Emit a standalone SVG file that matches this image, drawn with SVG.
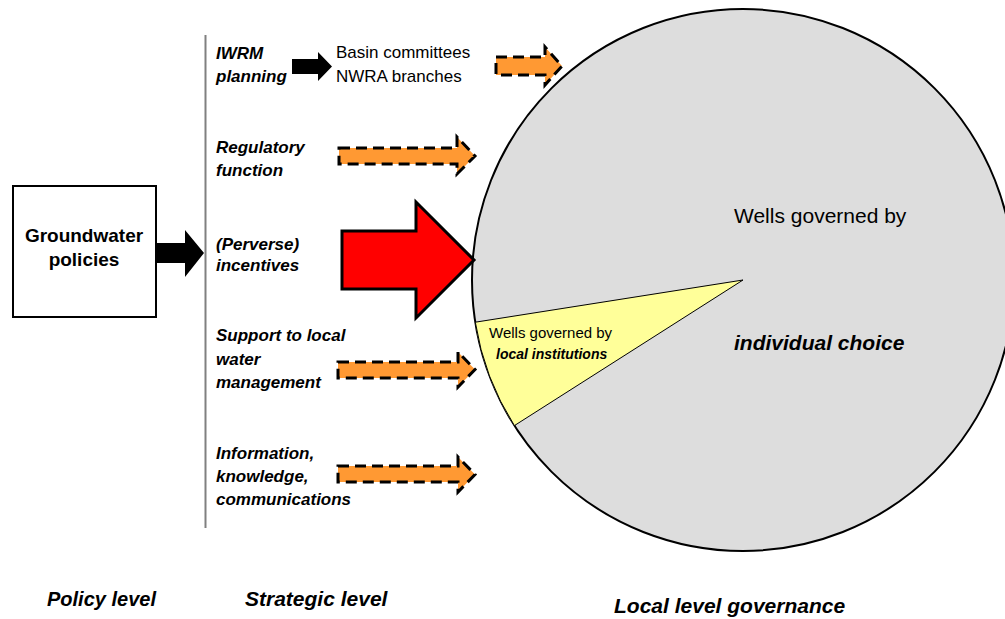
<svg xmlns="http://www.w3.org/2000/svg" width="1005" height="619" viewBox="0 0 1005 619">
<style>
.bi{font-family:"Liberation Sans",Arial,sans-serif;font-weight:bold;font-style:italic;fill:#000}
.rg{font-family:"Liberation Sans",Arial,sans-serif;fill:#000}
.orange{fill:#FF9933;stroke:#000;stroke-width:3;stroke-dasharray:11 6;stroke-linejoin:miter}
.black{fill:#000;stroke:none}
</style>
<rect width="1005" height="619" fill="#fff"/>
<g id="pie">
<circle cx="743" cy="280" r="271" fill="#DDDDDD" stroke="#000" stroke-width="2"/>
<path d="M743,280 L475.3,322.2 A271,271 0 0,0 514.4,425.6 Z" fill="#FFFF99" stroke="#000" stroke-width="1"/>
<text class="rg" x="734" y="223" font-size="21">Wells governed by</text>
<text class="bi" x="734" y="350" font-size="21">individual choice</text>
<text class="rg" x="489" y="338" font-size="15">Wells governed by</text>
<text class="bi" x="496" y="359" font-size="14">local institutions</text>
</g>
<g id="policy-box">
<rect x="13" y="186" width="143" height="131" fill="#fff" stroke="#000" stroke-width="2"/>
<text class="rg" x="84" y="242" font-size="19" font-weight="bold" text-anchor="middle">Groundwater</text>
<text class="rg" x="84" y="266" font-size="19" font-weight="bold" text-anchor="middle">policies</text>
</g>
<g id="strategic-line">
<line x1="205.5" y1="35" x2="205.5" y2="528" stroke="#808080" stroke-width="2"/>
</g>
<g id="strategies">
<text class="bi" x="216" y="59" font-size="17">IWRM</text>
<text class="bi" x="216" y="82" font-size="17">planning</text>
<text class="bi" x="216" y="153" font-size="17">Regulatory</text>
<text class="bi" x="216" y="176" font-size="17">function</text>
<text class="bi" x="216" y="250" font-size="17">(Perverse)</text>
<text class="bi" x="216" y="271" font-size="17">incentives</text>
<text class="bi" x="216" y="341" font-size="17">Support to local</text>
<text class="bi" x="216" y="365" font-size="17">water</text>
<text class="bi" x="216" y="388" font-size="17">management</text>
<text class="bi" x="216" y="459" font-size="17">Information,</text>
<text class="bi" x="216" y="482" font-size="17">knowledge,</text>
<text class="bi" x="216" y="505" font-size="17">communications</text>
</g>
<g id="basin">
<text class="rg" x="336" y="58" font-size="17">Basin committees</text>
<text class="rg" x="336" y="82" font-size="17">NWRA branches</text>
</g>
<g id="connectors">
<path class="black" d="M156,243 L185,243 L185,230 L204,253 L185,277 L185,263 L156,263 Z"/>
<path class="black" d="M292,59 L318,59 L318,52 L332,66.5 L318,81 L318,74 L292,74 Z"/>
<path class="orange" d="M496,57 L545,57 L545,47 L562,66 L545,85 L545,75 L496,75 Z"/>
<path class="orange" d="M339,148 L457,148 L457,137 L475,156 L457,174 L457,164 L339,164 Z"/>
<path d="M342,231 L416,231 L416,202 L474,260 L416,318 L416,289 L342,289 Z" fill="#FF0000" stroke="#000" stroke-width="3"/>
<path class="orange" d="M338,362 L458,362 L458,352 L475,369.5 L458,387 L458,378 L338,378 Z"/>
<path class="orange" d="M338,466 L458,466 L458,457 L475,474.5 L458,492 L458,482 L338,482 Z"/>
</g>
<g id="levels">
<text class="bi" x="47" y="606" font-size="20">Policy level</text>
<text class="bi" x="245" y="606" font-size="21">Strategic level</text>
<text class="bi" x="614" y="613" font-size="21">Local level governance</text>
</g>
</svg>
